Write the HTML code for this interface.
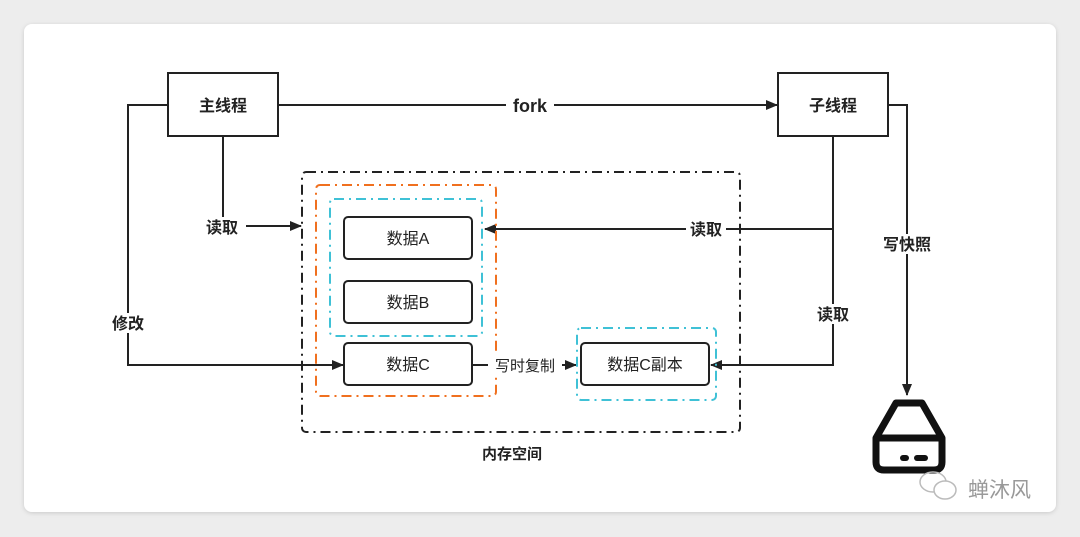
<!DOCTYPE html>
<html><head><meta charset="utf-8"><style>
body{margin:0;background:#ededed;}
svg{display:block}
text{font-family:"Liberation Sans","Noto Sans CJK SC",sans-serif;fill:#222}
</style></head><body>
<svg width="1080" height="537" viewBox="0 0 1080 537">
<defs>
<marker id="a" markerWidth="12" markerHeight="12" refX="11" refY="6" orient="auto" markerUnits="userSpaceOnUse"><path d="M0,1 L12,6 L0,11 Z" fill="#222"/></marker>
<filter id="s" x="-5%" y="-5%" width="110%" height="110%"><feDropShadow dx="0" dy="1" stdDeviation="2" flood-opacity="0.15"/></filter>
</defs>
<rect x="24" y="24" width="1032" height="488" rx="8" fill="#fff" filter="url(#s)"/>
<g fill="none" stroke="#222" stroke-width="2">
<rect x="168" y="73" width="110" height="63"/>
<rect x="778" y="73" width="110" height="63"/>
<line x1="278" y1="105" x2="777" y2="105" marker-end="url(#a)"/>
<polyline points="168,105 128,105 128,365 343,365" marker-end="url(#a)"/>
<polyline points="223,136 223,226 301,226" marker-end="url(#a)"/>
<polyline points="888,105 907,105 907,395" marker-end="url(#a)"/>
<polyline points="833,136 833,365 711,365" marker-end="url(#a)"/>
<line x1="833" y1="229" x2="485" y2="229" marker-end="url(#a)"/>
<line x1="472" y1="365" x2="576" y2="365" marker-end="url(#a)"/>
<rect x="302" y="172" width="438" height="260" rx="4" stroke-dasharray="10,5,2,5"/>
<rect x="316" y="185" width="180" height="211" rx="4" stroke="#f0701f" stroke-dasharray="10,5,2,5"/>
<rect x="330" y="199" width="152" height="137" rx="4" stroke="#3fc1d6" stroke-dasharray="10,5,2,5"/>
<rect x="577" y="328" width="139" height="72" rx="4" stroke="#3fc1d6" stroke-dasharray="10,5,2,5"/>
<rect x="344" y="217" width="128" height="42" rx="4" fill="#fff"/>
<rect x="344" y="281" width="128" height="42" rx="4" fill="#fff"/>
<rect x="344" y="343" width="128" height="42" rx="4" fill="#fff"/>
<rect x="581" y="343" width="128" height="42" rx="4" fill="#fff"/>
</g>
<g fill="#fff">
<rect x="506" y="95" width="48" height="20"/>
<rect x="196" y="217" width="50" height="20"/>
<rect x="686" y="219" width="40" height="20"/>
<rect x="108" y="313" width="40" height="20"/>
<rect x="813" y="304" width="40" height="20"/>
<rect x="878" y="234" width="58" height="20"/>
<rect x="488" y="355" width="74" height="20"/>
</g>
<g font-size="16" text-anchor="middle" font-weight="bold">
<text x="223" y="111">主线程</text>
<text x="833" y="111">子线程</text>
<text x="530" y="112" font-size="18">fork</text>
<text x="222" y="233">读取</text>
<text x="706" y="235">读取</text>
<text x="128" y="329">修改</text>
<text x="833" y="320">读取</text>
<text x="907" y="250">写快照</text>
</g>
<g font-size="16" text-anchor="middle">
<text x="525" y="371" font-size="15">写时复制</text>
<text x="408" y="244">数据A</text>
<text x="408" y="308">数据B</text>
<text x="408" y="370">数据C</text>
<text x="645" y="370">数据C副本</text>
<text x="512" y="459" font-size="15" font-weight="bold">内存空间</text>
</g>
<g fill="none" stroke="#111" stroke-width="7" stroke-linejoin="round">
<path d="M896,403 L922,403 L942,438 L942,462 Q942,470 934,470 L884,470 Q876,470 876,462 L876,438 Z"/>
<line x1="876" y1="438" x2="942" y2="438"/>
</g>
<rect x="900" y="455" width="9" height="6" rx="3" fill="#111"/>
<rect x="914" y="455" width="14" height="6" rx="3" fill="#111"/>
<g fill="none" stroke="#bbb" stroke-width="1.5"><ellipse cx="933" cy="482" rx="13" ry="10"/><ellipse cx="945" cy="490" rx="11" ry="9" fill="#fff"/></g>
<text x="968" y="497" font-size="21" style="fill:#999">蝉沐风</text>
</svg>
</body></html>
